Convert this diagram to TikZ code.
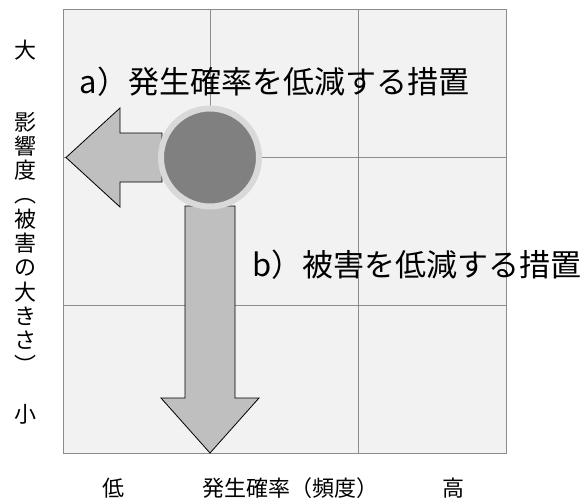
\documentclass[tikz,border=0pt]{standalone}
\usepackage{fontspec}
\setmainfont{Noto Sans CJK JP}
\definecolor{cellfill}{HTML}{F2F2F2}
\definecolor{gridline}{HTML}{8C8C8C}
\definecolor{arrowfill}{HTML}{BFBFBF}
\definecolor{dotfill}{HTML}{808080}
\definecolor{dotring}{HTML}{D9D9D9}
\tikzset{
  gridstyle/.style={draw=gridline, line width=1pt},
  bigarrow/.style={fill=arrowfill, draw=black, line width=0.8pt, line join=miter},
  axislabel/.style={font=\fontsize{22pt}{24.3pt}\selectfont, inner sep=0pt, align=center},
  measurelabel/.style={font=\fontsize{31pt}{36pt}\selectfont, inner sep=0pt, anchor=base west},
}
\begin{document}
\begin{tikzpicture}[x=1pt,y=-1pt]
\useasboundingbox (0,0) rectangle (584,503);
% grid
\fill[cellfill] (63,10) rectangle (506,453);
\draw[gridstyle] (210.7,10) -- (210.7,453);
\draw[gridstyle] (358.3,10) -- (358.3,453);
\draw[gridstyle] (63,157.7) -- (506,157.7);
\draw[gridstyle] (63,305.3) -- (506,305.3);
\draw[gridstyle] (63,10) rectangle (506,453);
% arrows
\draw[bigarrow] (162,133) -- (120,133) -- (120,108) -- (66,157.5) -- (120,207) -- (120,182) -- (162,182) -- cycle;
\draw[bigarrow] (185,206) -- (235,206) -- (235,398) -- (259,398) -- (210,453) -- (161,398) -- (185,398) -- cycle;
% risk dot
\node (dot) [circle, minimum size=98pt, inner sep=0pt, fill=dotfill, draw=dotring, line width=6pt] at (210,157.5) {};
% labels
\node (la) [measurelabel] at (79.5,94) {a）発生確率を低減する措置};
\node (lb) [measurelabel] at (252.5,276) {b）被害を低減する措置};
% axis labels
\node (big) [axislabel] at (25,50) {大};
\node (small) [axislabel] at (25,414) {小};
\node (ylab) [axislabel] at (25,242.5) {影\\響\\度\\︵\\被\\害\\の\\大\\き\\さ\\︶};
\node (low) [axislabel] at (113,488) {低};
\node (xlab) [axislabel] at (290,488) {発生確率（頻度）};
\node (high) [axislabel] at (453,488) {高};
\end{tikzpicture}
\end{document}
